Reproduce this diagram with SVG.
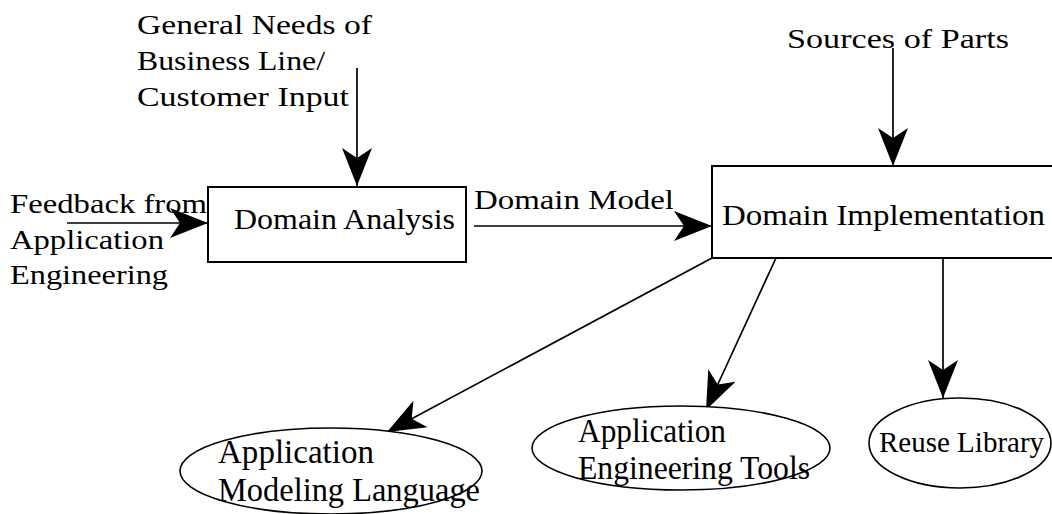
<svg xmlns="http://www.w3.org/2000/svg" width="1052" height="514" viewBox="0 0 1052 514">
<style>
text{font-family:"Liberation Serif","Times New Roman",serif;fill:#000;}
.box{fill:#fff;stroke:#000;stroke-width:2;}
.ell{fill:#fff;stroke:#000;stroke-width:1.6;}
.conn{stroke:#000;stroke-width:1.7;fill:none;marker-end:url(#ah);}
</style>
<defs>
<marker id="ah" viewBox="-40 -17 42 34" refX="0" refY="0" markerWidth="42" markerHeight="34" markerUnits="userSpaceOnUse" orient="auto">
<path d="M0,0 L-38,-15 L-28,0 L-38,15 Z" fill="#000"/>
</marker>
</defs>
<rect width="1052" height="514" fill="#fff"/>
<g id="connectors">
<line class="conn" x1="357" y1="68" x2="357" y2="186"/>
<line class="conn" x1="67" y1="223" x2="208" y2="223"/>
<line class="conn" x1="474" y1="226" x2="712" y2="226"/>
<line class="conn" x1="893" y1="48" x2="893" y2="166"/>
<line class="conn" x1="712" y1="258" x2="387" y2="432"/>
<line class="conn" x1="776" y1="258" x2="706" y2="410"/>
<line class="conn" x1="943" y1="258" x2="943" y2="398"/>
</g>
<g id="label-general-needs">
<text x="137" y="34" font-size="28" textLength="235" lengthAdjust="spacingAndGlyphs">General Needs of</text>
<text x="137" y="70" font-size="28" textLength="188" lengthAdjust="spacingAndGlyphs">Business Line/</text>
<text x="137" y="106" font-size="28" textLength="212" lengthAdjust="spacingAndGlyphs">Customer Input</text>
</g>
<g id="label-feedback">
<text x="10" y="213" font-size="28" textLength="197" lengthAdjust="spacingAndGlyphs">Feedback from</text>
<text x="10" y="249" font-size="28" textLength="154" lengthAdjust="spacingAndGlyphs">Application</text>
<text x="10" y="284" font-size="28" textLength="158" lengthAdjust="spacingAndGlyphs">Engineering</text>
</g>
<g id="domain-analysis">
<rect class="box" x="208" y="187" width="258" height="75"/>
<text x="234" y="229" font-size="29" textLength="221" lengthAdjust="spacingAndGlyphs">Domain Analysis</text>
</g>
<g id="label-domain-model">
<text x="474" y="209" font-size="28" textLength="200" lengthAdjust="spacingAndGlyphs">Domain Model</text>
</g>
<g id="label-sources">
<text x="787" y="48" font-size="28" textLength="222" lengthAdjust="spacingAndGlyphs">Sources of Parts</text>
</g>
<g id="domain-implementation">
<rect class="box" x="712" y="166" width="350" height="92"/>
<text x="722" y="225" font-size="30" textLength="323" lengthAdjust="spacingAndGlyphs">Domain Implementation</text>
</g>
<g id="app-modeling-language">
<ellipse class="ell" cx="331" cy="471" rx="151" ry="43"/>
<text x="218" y="463" font-size="34" textLength="156" lengthAdjust="spacingAndGlyphs">Application</text>
<text x="218" y="501" font-size="34" textLength="262" lengthAdjust="spacingAndGlyphs">Modeling Language</text>
</g>
<g id="app-engineering-tools">
<ellipse class="ell" cx="681" cy="448" rx="149" ry="42"/>
<text x="578" y="442" font-size="34" textLength="148" lengthAdjust="spacingAndGlyphs">Application</text>
<text x="578" y="479" font-size="34" textLength="232" lengthAdjust="spacingAndGlyphs">Engineering Tools</text>
</g>
<g id="reuse-library">
<ellipse class="ell" cx="960" cy="443" rx="91" ry="45"/>
<text x="879" y="452" font-size="29">Reuse Library</text>
</g>
</svg>
